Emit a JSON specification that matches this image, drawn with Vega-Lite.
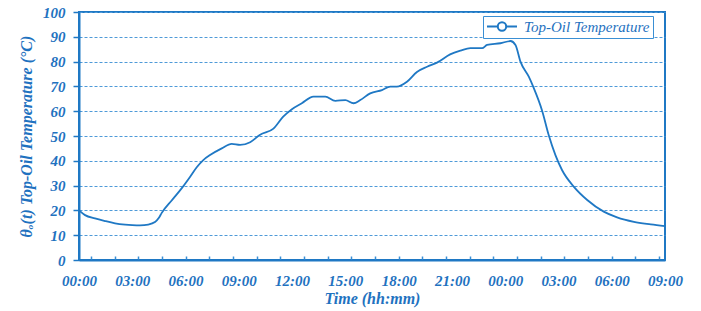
{
  "$schema": "https://vega.github.io/schema/vega-lite/v6.json",
  "autosize": {"type": "none"},
  "padding": {"left": 79, "top": 12, "right": 36, "bottom": 51},
  "width": 586,
  "height": 248,
  "background": "white",
  "config": {
    "view": {"stroke": "#1f78c4", "strokeWidth": 2},
    "font": "Liberation Serif"
  },
  "data": {
    "values": [
      {"h": 0, "v": 20.0, "s": "Top-Oil Temperature"},
      {"h": 0.34, "v": 18.1, "s": "Top-Oil Temperature"},
      {"h": 0.9, "v": 16.8, "s": "Top-Oil Temperature"},
      {"h": 1.47, "v": 15.7, "s": "Top-Oil Temperature"},
      {"h": 2.03, "v": 14.8, "s": "Top-Oil Temperature"},
      {"h": 2.6, "v": 14.3, "s": "Top-Oil Temperature"},
      {"h": 3.0, "v": 14.1, "s": "Top-Oil Temperature"},
      {"h": 3.44, "v": 14.0, "s": "Top-Oil Temperature"},
      {"h": 3.9, "v": 14.3, "s": "Top-Oil Temperature"},
      {"h": 4.28, "v": 15.3, "s": "Top-Oil Temperature"},
      {"h": 4.5, "v": 17.0, "s": "Top-Oil Temperature"},
      {"h": 4.66, "v": 19.0, "s": "Top-Oil Temperature"},
      {"h": 5.22, "v": 24.0, "s": "Top-Oil Temperature"},
      {"h": 5.79, "v": 29.0, "s": "Top-Oil Temperature"},
      {"h": 6.26, "v": 33.6, "s": "Top-Oil Temperature"},
      {"h": 6.63, "v": 37.4, "s": "Top-Oil Temperature"},
      {"h": 7.0, "v": 40.3, "s": "Top-Oil Temperature"},
      {"h": 7.38, "v": 42.3, "s": "Top-Oil Temperature"},
      {"h": 8.04, "v": 45.0, "s": "Top-Oil Temperature"},
      {"h": 8.6, "v": 46.8, "s": "Top-Oil Temperature"},
      {"h": 9.07, "v": 46.4, "s": "Top-Oil Temperature"},
      {"h": 9.64, "v": 47.5, "s": "Top-Oil Temperature"},
      {"h": 10.2, "v": 50.5, "s": "Top-Oil Temperature"},
      {"h": 10.95, "v": 53.0, "s": "Top-Oil Temperature"},
      {"h": 11.5, "v": 57.8, "s": "Top-Oil Temperature"},
      {"h": 11.99, "v": 60.8, "s": "Top-Oil Temperature"},
      {"h": 12.55, "v": 63.2, "s": "Top-Oil Temperature"},
      {"h": 13.2, "v": 65.9, "s": "Top-Oil Temperature"},
      {"h": 13.87, "v": 65.9, "s": "Top-Oil Temperature"},
      {"h": 14.43, "v": 64.2, "s": "Top-Oil Temperature"},
      {"h": 15.0, "v": 64.5, "s": "Top-Oil Temperature"},
      {"h": 15.46, "v": 63.2, "s": "Top-Oil Temperature"},
      {"h": 15.84, "v": 64.5, "s": "Top-Oil Temperature"},
      {"h": 16.4, "v": 67.2, "s": "Top-Oil Temperature"},
      {"h": 17.06, "v": 68.5, "s": "Top-Oil Temperature"},
      {"h": 17.53, "v": 69.9, "s": "Top-Oil Temperature"},
      {"h": 17.9, "v": 69.9, "s": "Top-Oil Temperature"},
      {"h": 18.47, "v": 71.9, "s": "Top-Oil Temperature"},
      {"h": 19.03, "v": 75.8, "s": "Top-Oil Temperature"},
      {"h": 19.6, "v": 77.9, "s": "Top-Oil Temperature"},
      {"h": 20.16, "v": 79.6, "s": "Top-Oil Temperature"},
      {"h": 20.9, "v": 82.9, "s": "Top-Oil Temperature"},
      {"h": 21.48, "v": 84.4, "s": "Top-Oil Temperature"},
      {"h": 22.04, "v": 85.4, "s": "Top-Oil Temperature"},
      {"h": 22.7, "v": 85.4, "s": "Top-Oil Temperature"},
      {"h": 22.98, "v": 86.7, "s": "Top-Oil Temperature"},
      {"h": 23.73, "v": 87.4, "s": "Top-Oil Temperature"},
      {"h": 24.3, "v": 88.3, "s": "Top-Oil Temperature"},
      {"h": 24.58, "v": 86.7, "s": "Top-Oil Temperature"},
      {"h": 24.86, "v": 80.0, "s": "Top-Oil Temperature"},
      {"h": 25.33, "v": 73.9, "s": "Top-Oil Temperature"},
      {"h": 25.6, "v": 69.5, "s": "Top-Oil Temperature"},
      {"h": 26.08, "v": 60.2, "s": "Top-Oil Temperature"},
      {"h": 26.45, "v": 50.4, "s": "Top-Oil Temperature"},
      {"h": 26.83, "v": 42.3, "s": "Top-Oil Temperature"},
      {"h": 27.2, "v": 36.3, "s": "Top-Oil Temperature"},
      {"h": 27.86, "v": 29.6, "s": "Top-Oil Temperature"},
      {"h": 28.62, "v": 24.2, "s": "Top-Oil Temperature"},
      {"h": 29.55, "v": 19.5, "s": "Top-Oil Temperature"},
      {"h": 30.3, "v": 17.2, "s": "Top-Oil Temperature"},
      {"h": 31.25, "v": 15.4, "s": "Top-Oil Temperature"},
      {"h": 32.2, "v": 14.4, "s": "Top-Oil Temperature"},
      {"h": 33.0, "v": 13.7, "s": "Top-Oil Temperature"}
    ]
  },
  "mark": {"type": "line", "strokeWidth": 1.8, "interpolate": "monotone"},
  "encoding": {
    "x": {
      "field": "h",
      "type": "quantitative",
      "scale": {"domain": [0, 33], "nice": false, "zero": false},
      "axis": {
        "title": "Time (hh:mm)",
        "values": [0, 0.6667, 2, 3, 3.3333, 4.6667, 6, 7.3333, 8.6667, 9, 10, 11.3333, 12, 12.6667, 14, 15, 15.3333, 16.6667, 18, 19.3333, 20.6667, 21, 22, 23.3333, 24, 24.6667, 26, 27, 27.3333, 28.6667, 30, 31.3333, 32.6667, 33],
        "labelExpr": "abs(datum.value/3 - round(datum.value/3)) < 0.01 ? ((round(datum.value) % 24) < 10 ? '0' : '') + (round(datum.value) % 24) + ':00' : ''",
        "labelOverlap": false,
        "labelBound": false,
        "labelFlush": false,
        "grid": false,
        "domainColor": "#1f78c4",
        "domainWidth": 2,
        "tickColor": "#3a8fd4",
        "tickWidth": 1.5,
        "tickSize": -4,
        "tickOpacity": {"condition": {"test": "indexof([0,3,9,12,15,21,24,27,33], datum.value) >= 0", "value": 0}, "value": 1},
        "labelPadding": 17,
        "labelFont": "Liberation Serif",
        "labelFontSize": 15,
        "labelFontStyle": "italic",
        "labelFontWeight": "bold",
        "labelColor": "#1f72c0",
        "titleFont": "Liberation Serif",
        "titleFontSize": 16,
        "titleFontStyle": "italic",
        "titleFontWeight": "bold",
        "titleColor": "#1f72c0",
        "titlePadding": 2
      }
    },
    "y": {
      "field": "v",
      "type": "quantitative",
      "scale": {"domain": [0, 100], "nice": false},
      "axis": {
        "title": "θₒ(t) Top-Oil Temperature (°C)",
        "values": [0, 10, 20, 30, 40, 50, 60, 70, 80, 90, 100],
        "grid": true,
        "gridColor": "#4f9ad8",
        "gridDash": [3, 2],
        "gridWidth": 1,
        "domainColor": "#1f78c4",
        "domainWidth": 2,
        "tickColor": "#1f78c4",
        "tickWidth": 1.5,
        "tickSize": 6,
        "labelPadding": 8,
        "labelFont": "Liberation Serif",
        "labelFontSize": 15,
        "labelFontStyle": "italic",
        "labelFontWeight": "bold",
        "labelColor": "#1f72c0",
        "titleFont": "Liberation Serif",
        "titleFontSize": 16,
        "titleFontStyle": "italic",
        "titleFontWeight": "bold",
        "titleColor": "#1f72c0",
        "titlePadding": 8
      }
    },
    "color": {
      "field": "s",
      "type": "nominal",
      "scale": {"range": ["#1f78c4"]},
      "legend": {
        "title": null,
        "orient": "none",
        "legendX": 404,
        "legendY": 4,
        "strokeColor": "#3a8fd4",
        "fillColor": "white",
        "padding": 3,
        "clipHeight": 15,
        "symbolType": "M-1,0H-0.28M0.28,0H1M0.28,0A0.28,0.28 0 1,1 -0.28,0A0.28,0.28 0 1,1 0.28,0",
        "symbolSize": 900,
        "symbolStrokeWidth": 2,
        "symbolStrokeColor": "#1f78c4",
        "symbolFillColor": "white",
        "labelFont": "Liberation Serif",
        "labelFontSize": 15,
        "labelFontStyle": "italic",
        "labelColor": "#1f72c0",
        "labelOffset": 6
      }
    }
  }
}
